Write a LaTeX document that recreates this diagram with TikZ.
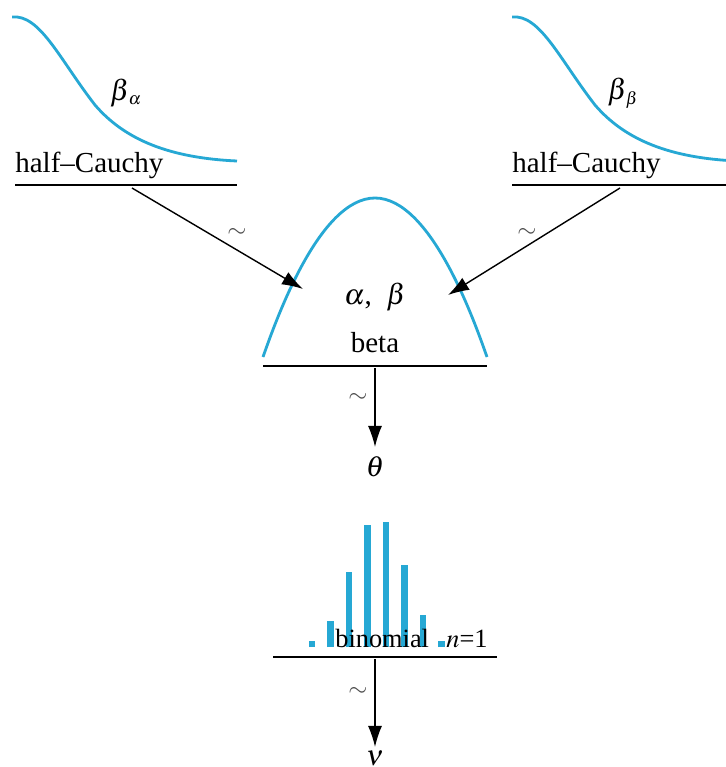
\documentclass[tikz,border=0pt]{standalone}
\usepackage{mathptmx}
\usepackage{fontspec}
\setmainfont{Liberation Serif}
\usepackage{tikz}
\usetikzlibrary{arrows.meta}
\definecolor{distcol}{RGB}{38,168,212}
\tikzset{
  dist/.style={draw=distcol,line width=1.6pt},
  baseline/.style={draw=black,line width=1.1pt},
  arr/.style={draw=black,line width=0.8pt,-{Latex[length=12pt,width=8pt]}},
  pbar/.style={draw=distcol,line width=3.6pt},
  sim/.style={font=\fontsize{14}{16}\selectfont,text=black!70},
  small/.style={font=\fontsize{15}{18}\selectfont}
}
\begin{document}
\begin{tikzpicture}[x=0.02cm,y=-0.02cm,every node/.style={font=\fontsize{16.5}{19}\selectfont,inner sep=0pt}]
  \useasboundingbox (0,0) rectangle (726,767);
  \clip (0,0) rectangle (726,767);
  \fill[white] (0,0) rectangle (726,767);
  \draw[dist] (12,17) .. controls (40,14) and (60,60) .. (95,105) .. controls (125,140) and (170,158) .. (237,161);
  \node (ba) at (126,93) {$\beta_{\,\scriptscriptstyle\alpha}$};
  \node[anchor=base west] (hcL) at (15,172) {half--Cauchy};
  \draw[baseline] (15,185) coordinate (lL) -- (237,185) coordinate (rL);
  \draw[dist] (512,17) .. controls (540,14) and (560,60) .. (595,105) .. controls (625,140) and (670,158) .. (737,161);
  \node (bb) at (623,93) {$\beta_{\,\scriptscriptstyle\beta}$};
  \node[anchor=base west] (hcR) at (512,172) {half--Cauchy};
  \draw[baseline] (512,185) coordinate (lR) -- (726,185) coordinate (rR);
  \draw[dist] (263,357) parabola bend (375,198) (487,357);
  \node (ab) at (375,297) {$\alpha$,\enspace$\beta$};
  \node[anchor=base] (beta) at (375,352) {beta};
  \draw[baseline] (263,366) coordinate (lB) -- (487,366) coordinate (rB);
  \coordinate (sL) at (132,188);
  \coordinate (eL) at (303,289);
  \coordinate (sR) at (620,188);
  \coordinate (eR) at (448,295);
  \draw[arr] (sL) -- (eL);
  \draw[arr] (sR) -- (eR);
  \node[sim] (tL) at (237,233) {$\sim$};
  \node[sim] (tR) at (527,233) {$\sim$};
  \coordinate (sB) at (375,368);
  \node (theta) at (375,467) {$\theta$};
  \draw[arr] (sB) -- (375,447);
  \node[sim] (tB) at (358,398) {$\sim$};
  \foreach \x/\t in {312/641,330.5/621,349/572,367.5/525,386/522,404.5/565,423/615,441.5/641}
    \draw[pbar] (\x,647) -- (\x,\t);
  \node[small,anchor=base west] (binom) at (335,647) {binomial};
  \node[small,anchor=base west] (n) at (446,647) {$n$=1};
  \draw[baseline] (273,657) coordinate (lN) -- (497,657) coordinate (rN);
  \coordinate (sN) at (375,659);
  \node (nu) at (375,758) {$\nu$};
  \draw[arr] (sN) -- (375,747);
  \node[sim] (tN) at (358,692) {$\sim$};
\end{tikzpicture}
\end{document}
